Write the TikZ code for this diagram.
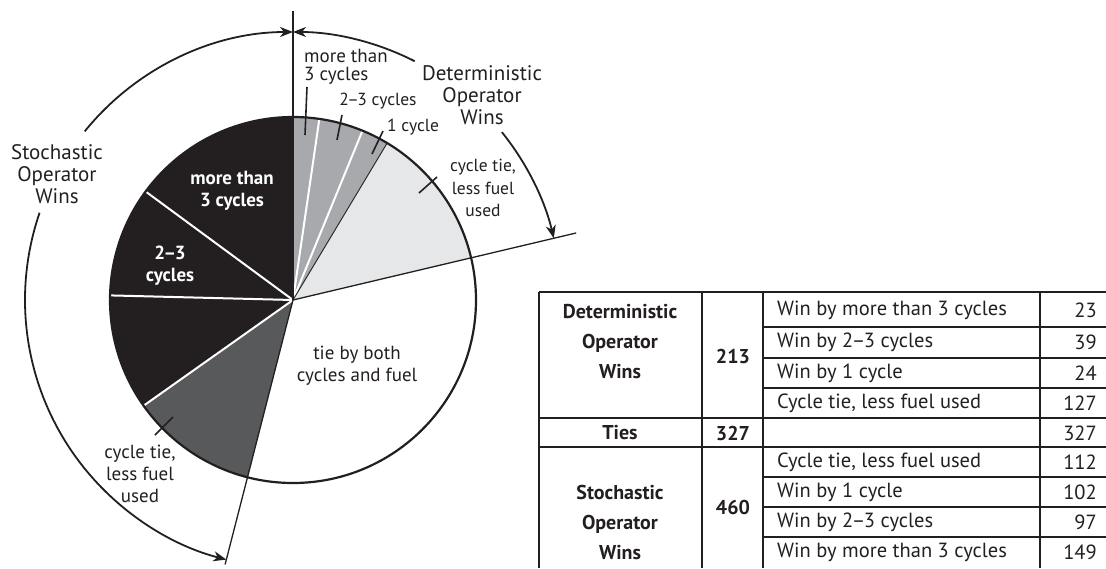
\documentclass[tikz,border=0pt]{standalone}
\usepackage{fontspec}
\setmainfont{PT Sans}
\usetikzlibrary{arrows.meta}
\definecolor{midgray}{HTML}{A7A9AC}
\definecolor{paleg}{HTML}{E6E7E8}
\definecolor{darkg}{HTML}{58595B}
\definecolor{nearblack}{HTML}{231F20}
\newcommand{\ndash}{\kern-1.5pt–\kern-1.5pt}
\begin{document}
\begin{tikzpicture}[x=1pt,y=1pt,
  lbl/.style={font=\fontsize{17.5}{18}\selectfont, align=center, inner sep=0pt, text=nearblack},
  biglbl/.style={font=\fontsize{21}{22}\selectfont, align=center, inner sep=0pt, text=nearblack},
  inlbl/.style={font=\fontsize{19}{22}\selectfont\bfseries, align=center, inner sep=0pt, text=white},
  tick/.style={line width=1.6pt, draw=nearblack},
  sep/.style={line width=2pt, draw=white},
  ray/.style={line width=1.3pt, draw=nearblack},
  bigarc/.style={line width=1.8pt, draw=nearblack, -{Stealth[length=13pt,width=10pt,inset=4pt]}},
  tline/.style={line width=2.4pt, draw=nearblack},
  ttxt/.style={font=\fontsize{20.5}{30}\selectfont, inner sep=0pt, text=nearblack},
  tbold/.style={font=\fontsize{20}{30}\selectfont\bfseries, align=center, inner sep=0pt, text=nearblack}]
\useasboundingbox (0,0) rectangle (1106,-568);
% ---------- pie ----------
\begin{scope}[shift={(293,-300)}]
\fill[midgray] (0,0) -- (90:183) arc[start angle=90,end angle=59.04,radius=183] -- cycle;
\fill[paleg] (0,0) -- (59.04:183) arc[start angle=59.04,end angle=13.32,radius=183] -- cycle;
\fill[darkg] (0,0) -- (-104.4:183) arc[start angle=-104.4,end angle=-144.72,radius=183] -- cycle;
\fill[nearblack] (0,0) -- (-144.72:183) arc[start angle=-144.72,end angle=-270,radius=183] -- cycle;
\draw[sep] (0,0) -- (81.72:183);
\draw[sep] (0,0) -- (67.68:183);
\draw[sep] (0,0) -- (-144.72:183);
\draw[sep] (0,0) -- (-181.44:183);
\draw[sep] (0,0) -- (-216.36:183);
\draw[line width=0.9pt, draw=nearblack] (0,0) -- (59.04:183);
\coordinate (ctr) at (0,0);
\coordinate (topend) at (90:289);
\coordinate (rend) at (13.32:291);
\coordinate (bend) at (-104.4:273);
\draw[ray] (ctr) -- (topend);
\draw[ray] (ctr) -- (rend);
\draw[ray] (ctr) -- (bend);
\draw[line width=2.2pt, draw=nearblack] (ctr) circle[radius=183];
% outer arcs
\draw[bigarc] (63:268) arc[start angle=63,end angle=90,radius=268];
\draw[bigarc] (38.8:268) arc[start angle=38.8,end angle=13.32,radius=268];
\draw[bigarc] (141:268) arc[start angle=141,end angle=90,radius=268];
\draw[bigarc] (161:268) arc[start angle=161,end angle=255.6,radius=268];
\end{scope}
% ticks
\draw[tick] (307,-87) -- (305,-135);
\draw[tick] (342,-115) -- (337,-140);
\draw[tick] (383,-131) -- (372,-154);
\draw[tick] (437,-177) -- (419,-193);
\draw[tick] (173,-417) -- (155,-435);
% labels
\node[lbl, font=\fontsize{19}{18}\selectfont, align=left, anchor=west] (l1) at (304,-67) {more than\\3 cycles};
\node[lbl] (l2) at (378,-101) {2\ndash3 cycles};
\node[lbl] (l3) at (413,-127) {1 cycle};
\node[lbl, font=\fontsize{17.5}{22.5}\selectfont] (l4) at (483,-188) {cycle tie,\\less fuel\\used};
\node[biglbl] (det) at (482,-95) {Deterministic\\Operator\\Wins};
\node[biglbl] (sto) at (57,-174) {Stochastic\\Operator\\Wins};
\node[inlbl] (i1) at (232,-191) {more than\\3 cycles};
\node[inlbl] (i2) at (170,-266) {2\ndash3\\cycles};
\node[lbl, font=\fontsize{19}{22}\selectfont] (tie) at (357,-366) {tie by both\\cycles and fuel};
\node[lbl, font=\fontsize{19}{22}\selectfont] (l5) at (140,-474) {cycle tie,\\less fuel\\used};
% ---------- table ----------
\draw[tline] (539,-292) -- (1106,-292);
\draw[tline] (539,-292) -- (539,-568);
\draw[tline] (702,-292) -- (702,-568);
\draw[tline] (763,-292) -- (763,-568);
\draw[tline] (1040,-292) -- (1040,-568);
\draw[tline] (539,-418) -- (1106,-418);
\draw[tline] (539,-447) -- (1106,-447);
\foreach \yy in {327,358,388,477,507,537} \draw[tline] (763,-\yy) -- (1106,-\yy);
\node[tbold] (dh) at (620,-342) {Deterministic\\Operator\\Wins};
\node[tbold] (dn) at (733,-356) {213};
\node[tbold] (th) at (620,-433) {Ties};
\node[tbold] (tn) at (733,-433) {327};
\node[tbold] (sh) at (620,-522) {Stochastic\\Operator\\Wins};
\node[tbold] (sn) at (733,-507) {460};
\node[ttxt, anchor=west] (r1) at (777,-310) {Win by more than 3 cycles};
\node[ttxt, anchor=west] (r2) at (777,-342) {Win by 2\ndash3 cycles};
\node[ttxt, anchor=west] (r3) at (777,-373) {Win by 1 cycle};
\node[ttxt, anchor=west] (r4) at (777,-403) {Cycle tie, less fuel used};
\node[ttxt, anchor=west] (r6) at (777,-462) {Cycle tie, less fuel used};
\node[ttxt, anchor=west] (r7) at (777,-492) {Win by 1 cycle};
\node[ttxt, anchor=west] (r8) at (777,-522) {Win by 2\ndash3 cycles};
\node[ttxt, anchor=west] (r9) at (777,-552) {Win by more than 3 cycles};
\node[ttxt, anchor=east] (v1) at (1097,-310) {23};
\node[ttxt, anchor=east] (v2) at (1097,-342) {39};
\node[ttxt, anchor=east] (v3) at (1097,-373) {24};
\node[ttxt, anchor=east] (v4) at (1097,-403) {127};
\node[ttxt, anchor=east] (v5) at (1097,-433) {327};
\node[ttxt, anchor=east] (v6) at (1097,-462) {112};
\node[ttxt, anchor=east] (v7) at (1097,-492) {102};
\node[ttxt, anchor=east] (v8) at (1097,-522) {97};
\node[ttxt, anchor=east] (v9) at (1097,-552) {149};
\end{tikzpicture}
\end{document}
